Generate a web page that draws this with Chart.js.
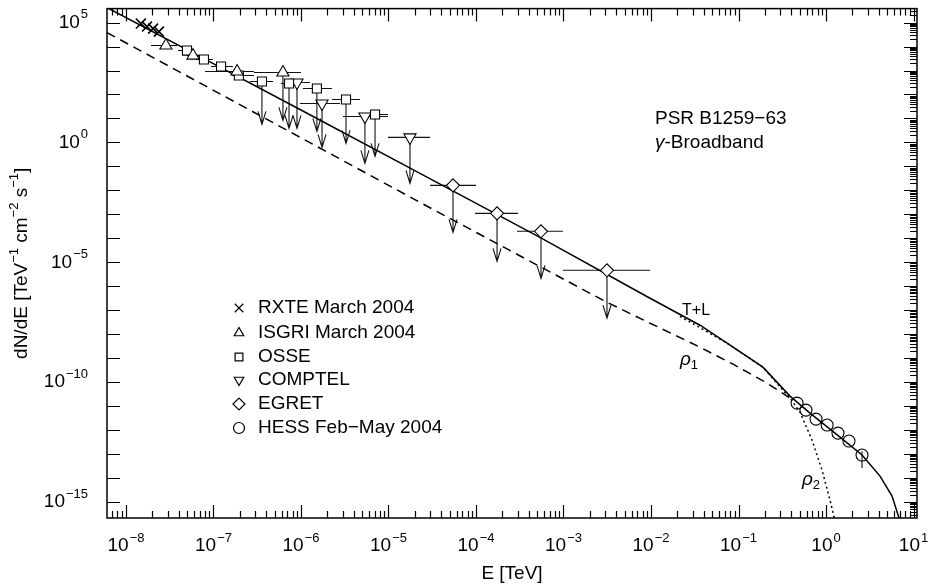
<!DOCTYPE html>
<html>
<head>
<meta charset="utf-8">
<title>PSR B1259-63 gamma broadband spectrum</title>
<script src="https://cdn.jsdelivr.net/npm/chart.js@4.4.1/dist/chart.umd.min.js"></script>
<style>
  html, body { margin: 0; padding: 0; background: #fff; }
  #wrap { width: 930px; height: 586px; }
</style>
</head>
<body>
<div id="wrap"><canvas id="sed" width="930" height="586"></canvas></div>
<script>
// axis ranges: E [TeV], dN/dE [TeV^-1 cm^-2 s^-1]
const eRange    = [6.07e-9, 10.96];
const fluxRange = [2.15e-16, 3.83e5];
const eLabelDecades    = [-8, -7, -6, -5, -4, -3, -2, -1, 0, 1];
const fluxLabelDecades = [5, 0, -5, -10, -15];

// model curves
const tlE   = [6.07e-9, 7.02e-8, 9.75e-7, 2.29e-5, 5.38e-4, 9.75e-3, 0.0363, 0.074, 0.19, 0.388, 0.656, 1.445, 2.58, 4.14, 5.68, 6.83, 7.59];
const tlF   = [4.22e5, 3.83e3, 23.7, 0.0511, 1.10e-4, 3.16e-7, 2.37e-8, 4.22e-9, 4.22e-10, 2.61e-11, 5.1e-12, 5.1e-13, 9.1e-14, 1.2e-14, 1.78e-15, 2.15e-16, 6.8e-17];
const rho1E = [6.07e-9, 2.29e-5, 9.12e-4, 3.14e-3, 9.75e-3, 0.0363, 0.0865, 0.212, 0.42];
const rho1F = [3.83e4, 3.16e-3, 2.37e-6, 2.15e-7, 2.87e-8, 2.87e-9, 5.62e-10, 9.1e-11, 1.78e-11];
const rho2E = [0.0214, 0.074, 0.19, 0.388, 0.505, 0.692, 0.90, 1.11, 1.30];
const rho2F = [5.6e-8, 4.22e-9, 4.22e-10, 2.15e-11, 5.6e-12, 3.83e-13, 2.15e-14, 1.21e-15, 1.1e-16];

// measurements (ul = tip of upper-limit arrow)
const rxteE = [1.48e-8, 1.74e-8, 2.04e-8, 2.38e-8];
const rxteF = [9.1e4, 6.8e4, 5.6e4, 4.2e4];

const isgriE   = [2.86e-8, 5.83e-8, 1.86e-7, 6.22e-7];
const isgriF   = [1.1e4, 4.2e3, 908, 826];
const isgriElo = [1.93e-8, 4.98e-8, 8.0e-8, 2.9e-7];
const isgriEhi = [3.83e-8, 6.83e-8, 2.9e-7, 1.0e-6];
const isgriUL  = [null, null, null, 8.26];

const osseE   = [4.98e-8, 7.78e-8, 1.22e-7, 1.95e-7, 3.58e-7, 7.3e-7, 1.52e-6, 3.27e-6, 7.02e-6];
const osseF   = [6.8e3, 2.87e3, 1.47e3, 619, 348, 287, 178, 61.9, 14.7];
const osseElo = [3.93e-8, 6.31e-8, 9.35e-8, 1.63e-7, 2.61e-7, 5.9e-7, 1.05e-6, 2.26e-6, 5.53e-6];
const osseEhi = [5.98e-8, 9.86e-8, 1.67e-7, 2.9e-7, 4.79e-7, 9.25e-7, 2.26e-6, 4.72e-6, 9.86e-6];
const osseUL  = [null, null, null, null, 5.62, 3.83, 2.87, 0.908, 0.261];

const comptelE   = [9.0e-7, 1.74e-6, 5.38e-6, 1.76e-5];
const comptelF   = [316, 42.2, 12.1, 1.62];
const comptelElo = [6.75e-7, 9.75e-7, 3.02e-6, 9.86e-6];
const comptelEhi = [1.27e-6, 2.79e-6, 9.86e-6, 2.98e-5];
const comptelUL  = [3.83, 0.619, 0.133, 0.0196];

const egretE   = [5.46e-5, 1.74e-4, 5.53e-4, 3.14e-3];
const egretF   = [0.0162, 1.1e-3, 1.96e-4, 4.64e-6];
const egretElo = [2.98e-5, 9.75e-5, 2.94e-4, 9.86e-4];
const egretEhi = [1.0e-4, 3.02e-4, 9.86e-4, 9.75e-3];
const egretUL  = [1.78e-4, 1.1e-5, 2.15e-6, 4.64e-8];

const hessE = [0.467, 0.59, 0.769, 1.03, 1.37, 1.83, 2.58];
const hessF = [1.33e-11, 6.8e-12, 2.87e-12, 1.62e-12, 7.5e-13, 3.48e-13, 9.1e-14];
const hessFlo = [null, null, null, null, null, null, 2.6e-14];
const hessFhi = [null, null, null, null, null, null, 1.3e-13];

const legendItems = [
  { text: 'RXTE March 2004',    style: 'crossRot', r: 6,   rot: 0 },
  { text: 'ISGRI March 2004',   style: 'triangle', r: 5.5, rot: 0 },
  { text: 'OSSE',               style: 'rect',     r: 5.5, rot: 0 },
  { text: 'COMPTEL',            style: 'triangle', r: 5.5, rot: 180 },
  { text: 'EGRET',              style: 'rectRot',  r: 6,   rot: 0 },
  { text: 'HESS Feb\u2212May 2004', style: 'circle', r: 5.5, rot: 0 }
];

const FONT = '"Liberation Sans", Arial, Helvetica, sans-serif';

function pts(es, fs) {
  return es.map((e, i) => ({ x: e, y: fs[i] }));
}

function curve(label, es, fs, dash, order) {
  return {
    label, data: pts(es, fs), showLine: true, pointRadius: 0,
    borderColor: '#000', borderWidth: 1.5, borderDash: dash, order
  };
}

function markers(label, es, fs, style, r, rot, fill, bw) {
  return {
    label, data: pts(es, fs), showLine: false,
    pointStyle: style, pointRadius: r, pointRotation: rot,
    pointBorderColor: '#000', pointBackgroundColor: fill,
    pointBorderWidth: bw || 1.1, order: 0
  };
}

const errorSets = [
  { E: isgriE, F: isgriF, lo: isgriElo, hi: isgriEhi, ul: isgriUL },
  { E: osseE, F: osseF, lo: osseElo, hi: osseEhi, ul: osseUL },
  { E: comptelE, F: comptelF, lo: comptelElo, hi: comptelEhi, ul: comptelUL },
  { E: egretE, F: egretF, lo: egretElo, hi: egretEhi, ul: egretUL }
];

// draws "10" with a raised exponent
function drawPow(ctx, exp, x, y, align) {
  const sup = exp < 0 ? '\u2212' + (-exp) : String(exp);
  ctx.font = '19px ' + FONT;
  const wb = ctx.measureText('10').width;
  ctx.font = '13px ' + FONT;
  const ws = ctx.measureText(sup).width;
  const total = wb + 1 + ws;
  const x0 = align === 'center' ? x - total / 2 : x - total;
  ctx.textAlign = 'left';
  ctx.textBaseline = 'middle';
  ctx.font = '19px ' + FONT;
  ctx.fillText('10', x0, y);
  ctx.font = '13px ' + FONT;
  ctx.fillText(sup, x0 + wb + 1, y - 8);
}

// text runs: [text, 'n' | 's' (superscript) | 'b' (subscript) | 'i' (italic)]
function drawRuns(ctx, runs, x, y, size, align) {
  const fontFor = k => (k === 'i' ? 'italic ' + size + 'px ' : (k === 'n' ? size + 'px ' : Math.round(size * 0.7) + 'px ')) + FONT;
  let w = 0;
  runs.forEach(([t, k]) => { ctx.font = fontFor(k); w += ctx.measureText(t).width; });
  let cx = align === 'center' ? x - w / 2 : x;
  ctx.textAlign = 'left';
  ctx.textBaseline = 'middle';
  runs.forEach(([t, k]) => {
    ctx.font = fontFor(k);
    const dy = k === 's' ? -size * 0.4 : (k === 'b' ? size * 0.3 : 0);
    ctx.fillText(t, cx, y + dy);
    cx += ctx.measureText(t).width;
  });
}

const decor = {
  id: 'decor',
  beforeDatasetsDraw(chart) {
    const { ctx, chartArea: a, scales: { x, y } } = chart;
    ctx.save();
    ctx.beginPath();
    ctx.rect(a.left, a.top, a.right - a.left, a.bottom - a.top);
    ctx.clip();
    ctx.strokeStyle = '#111';
    ctx.lineWidth = 1.1;
    errorSets.forEach(s => {
      s.E.forEach((e, i) => {
        const px = x.getPixelForValue(e), py = y.getPixelForValue(s.F[i]);
        ctx.beginPath();
        ctx.moveTo(x.getPixelForValue(s.lo[i]), py);
        ctx.lineTo(x.getPixelForValue(s.hi[i]), py);
        ctx.stroke();
        if (s.ul[i] != null) {
          const ty = y.getPixelForValue(s.ul[i]);
          ctx.beginPath();
          ctx.moveTo(px, py);
          ctx.lineTo(px, ty);
          ctx.moveTo(px - 4, ty - 13);
          ctx.lineTo(px, ty);
          ctx.lineTo(px + 4, ty - 13);
          ctx.stroke();
        }
      });
    });
    hessE.forEach((e, i) => {
      if (hessFlo[i] == null) return;
      const px = x.getPixelForValue(e);
      ctx.beginPath();
      ctx.moveTo(px, y.getPixelForValue(hessFlo[i]));
      ctx.lineTo(px, y.getPixelForValue(hessFhi[i]));
      ctx.stroke();
    });
    ctx.restore();
  },
  afterDraw(chart) {
    const { ctx, chartArea: a, scales: { x, y } } = chart;
    ctx.save();
    ctx.strokeStyle = '#000';
    ctx.fillStyle = '#000';

    // frame
    ctx.lineWidth = 1.5;
    ctx.strokeRect(a.left, a.top, a.right - a.left, a.bottom - a.top);

    // ticks
    ctx.lineWidth = 1.2;
    ctx.beginPath();
    for (let d = -9; d <= 1; d++) {
      for (let m = 1; m <= 9; m++) {
        const v = m * Math.pow(10, d);
        if (v < eRange[0] || v > eRange[1]) continue;
        const px = Math.round(x.getPixelForValue(v)) + 0.5;
        const len = m === 1 ? 13 : 7;
        ctx.moveTo(px, a.bottom); ctx.lineTo(px, a.bottom - len);
        ctx.moveTo(px, a.top);    ctx.lineTo(px, a.top + len);
      }
    }
    for (let d = -16; d <= 5; d++) {
      for (let m = 1; m <= 9; m++) {
        const v = m * Math.pow(10, d);
        if (v < fluxRange[0] || v > fluxRange[1]) continue;
        const py = Math.round(y.getPixelForValue(v)) + 0.5;
        if (m === 1) {
          ctx.moveTo(a.left, py);  ctx.lineTo(a.left + 13, py);
          ctx.moveTo(a.right, py); ctx.lineTo(a.right - 13, py);
        } else {
          ctx.moveTo(a.right, py); ctx.lineTo(a.right - 7, py);
        }
      }
    }
    ctx.stroke();

    // tick labels
    eLabelDecades.forEach(d => drawPow(ctx, d, x.getPixelForValue(Math.pow(10, d)), a.bottom + 28, 'center'));
    fluxLabelDecades.forEach(d => drawPow(ctx, d, 88, y.getPixelForValue(Math.pow(10, d)), 'right'));

    // axis titles
    drawRuns(ctx, [['E [TeV]', 'n']], (a.left + a.right) / 2, 574, 19, 'center');
    ctx.save();
    ctx.translate(22, (a.top + a.bottom) / 2);
    ctx.rotate(-Math.PI / 2);
    drawRuns(ctx, [['dN/dE [TeV', 'n'], ['\u22121', 's'], [' cm', 'n'], ['\u22122', 's'], [' s', 'n'], ['\u22121', 's'], [']', 'n']], 0, 0, 19, 'center');
    ctx.restore();

    // source name
    drawRuns(ctx, [['PSR B1259\u221263', 'n']], 655, 119, 19, 'left');
    drawRuns(ctx, [['\u03b3', 'i'], ['-Broadband', 'n']], 655, 143, 19, 'left');

    // curve labels
    drawRuns(ctx, [['T+L', 'n']], x.getPixelForValue(0.0327), y.getPixelForValue(1e-7), 16, 'center');
    drawRuns(ctx, [['\u03c1', 'i'], ['1', 'b']], x.getPixelForValue(0.0272), y.getPixelForValue(8.3e-10), 19, 'center');
    drawRuns(ctx, [['\u03c1', 'i'], ['2', 'b']], x.getPixelForValue(0.674), y.getPixelForValue(8.3e-15), 19, 'center');

    // legend
    const lx = 239, ly = [308, 333, 357, 380, 404, 428];
    legendItems.forEach((it, i) => {
      ctx.fillStyle = '#fff';
      ctx.strokeStyle = '#000';
      ctx.lineWidth = 1.2;
      Chart.helpers.drawPoint(ctx, { pointStyle: it.style, radius: it.r, rotation: it.rot, borderWidth: 1.2 }, lx, ly[i]);
      ctx.fillStyle = '#000';
      drawRuns(ctx, [[it.text, 'n']], 258, ly[i], 19, 'left');
    });
    ctx.restore();
  }
};

new Chart(document.getElementById('sed'), {
  type: 'scatter',
  data: {
    datasets: [
      markers('RXTE March 2004', rxteE, rxteF, 'crossRot', 7, 0, '#fff', 1.6),
      markers('ISGRI March 2004', isgriE, isgriF, 'triangle', 7, 0, '#fff'),
      markers('OSSE', osseE, osseF, 'rect', 6.4, 0, '#fff'),
      markers('COMPTEL', comptelE, comptelF, 'triangle', 7, 180, '#fff'),
      markers('EGRET', egretE, egretF, 'rectRot', 6.5, 0, '#fff'),
      markers('HESS Feb-May 2004', hessE, hessF, 'circle', 6, 0, 'rgba(0,0,0,0)'),
      curve('T+L', tlE, tlF, [], 1),
      curve('rho1', rho1E, rho1F, [9, 6], 2),
      curve('rho2', rho2E, rho2F, [2, 3], 3)
    ]
  },
  options: {
    responsive: false,
    animation: false,
    devicePixelRatio: 1,
    layout: { padding: { left: 107, right: 13, top: 8, bottom: 68 } },
    plugins: { legend: { display: false }, tooltip: { enabled: false } },
    scales: {
      x: { type: 'logarithmic', min: eRange[0], max: eRange[1], display: false },
      y: { type: 'logarithmic', min: fluxRange[0], max: fluxRange[1], display: false }
    }
  },
  plugins: [decor]
});
</script>
</body>
</html>
